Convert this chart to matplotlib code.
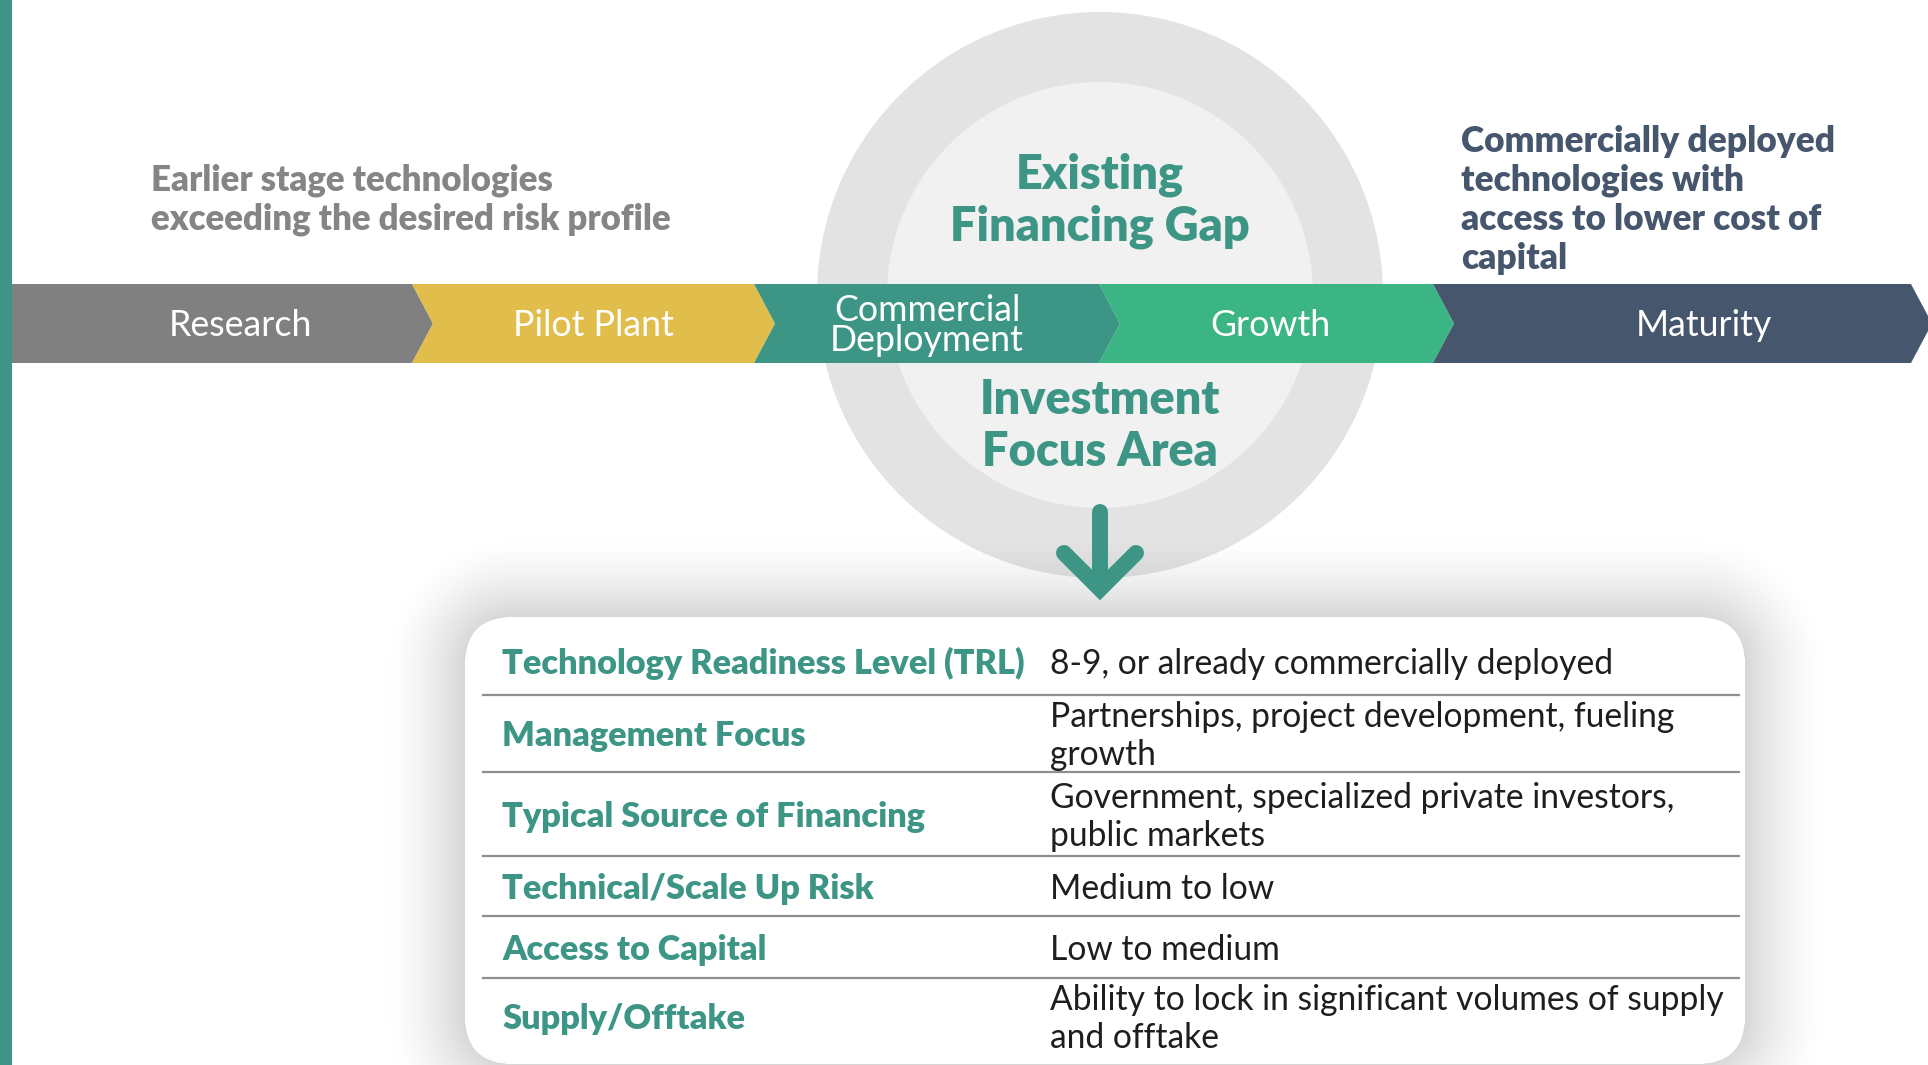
import numpy as np
import matplotlib
matplotlib.use("Agg")
import matplotlib.pyplot as plt
from matplotlib.font_manager import FontProperties
from matplotlib.patches import Circle, FancyBboxPatch, Polygon, Rectangle
from matplotlib.textpath import TextPath

W, H, DPI = 1928, 1065, 100
FONT = "Lato"
BOLD = "heavy"

TEAL = "#3d9685"
SLATE = "#45566d"

# stages along the arrow band
stages = ["Research", "Pilot Plant", "Commercial\nDeployment", "Growth", "Maturity"]
stage_colors = ["#808080", "#e1bd4c", "#3d9685", "#3bb583", "#45566d"]
stage_edges = [12, 412, 754, 1099, 1433, 1911]
stage_label_x = [240, 593, 927, 1271, 1704]

left_note = ["Earlier stage technologies", "exceeding the desired risk profile"]
right_note = ["Commercially deployed", "technologies with", "access to lower cost of", "capital"]
gap_title = ["Existing", "Financing Gap"]
focus_title = ["Investment", "Focus Area"]

# table in the card
table_labels = [
    "Technology Readiness Level (TRL)",
    "Management Focus",
    "Typical Source of Financing",
    "Technical/Scale Up Risk",
    "Access to Capital",
    "Supply/Offtake",
]
table_values = [
    "8-9, or already commercially deployed",
    "Partnerships, project development, fueling\ngrowth",
    "Government, specialized private investors,\npublic markets",
    "Medium to low",
    "Low to medium",
    "Ability to lock in significant volumes of supply\nand offtake",
]
row_centers = [662, 734, 815, 887, 948, 1017]
row_lines = [695, 772, 856, 916, 978]


def fit_size(text, width_px, weight="normal"):
    # font size (pt) that makes the ink of `text` width_px wide
    prop = FontProperties(family=FONT, weight=weight)
    w = TextPath((0, 0), text, size=100, prop=prop).get_extents().width
    return 100 * width_px / w * 72 / DPI


def put(ax, x, y, text, size, color, weight="normal", ha="left"):
    # y is the middle of the capitals, in pixels from the top
    base = y + 0.36 * size * DPI / 72
    ax.text(x, base, text, fontsize=size, color=color, fontweight=weight,
            family=FONT, ha=ha, va="baseline", zorder=10)


fig = plt.figure(figsize=(W / DPI, H / DPI), dpi=DPI)
ax = fig.add_axes([0, 0, 1, 1])
ax.axis("off")

# circle behind the band
ax.add_patch(Circle((1100, 295), 283, color="#e3e3e3", lw=0, zorder=1))
ax.add_patch(Circle((1100, 295), 213, color="#f1f1f1", lw=0, zorder=2))

# shadow of the card
cx0, cy0, cx1, cy1, rad = 465, 617, 1745, 1064, 48
yy, xx = np.mgrid[0:H, 0:W] + 0.5
dx = np.maximum.reduce([cx0 + rad - xx, np.zeros_like(xx), xx - (cx1 - rad)])
dy = np.maximum.reduce([cy0 + rad - yy, np.zeros_like(yy), yy - (cy1 - rad)])
dist = np.hypot(dx, dy) - rad
alpha = np.where(dist > 0, 0.16 * np.clip(1 - dist / 85, 0, 1) ** 1.6, 0)
shadow = np.zeros((H, W, 4))
shadow[..., 3] = alpha
ax.imshow(shadow, extent=(0, W, H, 0), origin="upper", zorder=3, interpolation="bilinear")

ax.add_patch(FancyBboxPatch((cx0, cy0), cx1 - cx0, cy1 - cy0,
                            boxstyle=f"round,pad=0,rounding_size={rad}",
                            fc="white", ec="none", zorder=4))

# arrow band
top, bot, tip = 284, 363, 21
mid = (top + bot) / 2
for i, color in enumerate(stage_colors):
    L, R = stage_edges[i], stage_edges[i + 1]
    pts = [(L, top), (R, top), (R + tip, mid), (R, bot), (L, bot)]
    if i > 0:
        pts.append((L + tip, mid))
    ax.add_patch(Polygon(pts, closed=True, fc=color, ec="none", zorder=5))

band_size = fit_size("Research", 138)
two_line_size = fit_size("Deployment", 190)
for name, x in zip(stages, stage_label_x):
    lines = name.split("\n")
    if len(lines) == 1:
        put(ax, x, mid, name, band_size, "white", ha="center")
    else:
        for k, line in enumerate(lines):
            put(ax, x, mid + (k - 0.5) * 30, line, two_line_size, "white", ha="center")

ax.add_patch(Rectangle((0, 0), 12, H, fc=TEAL, ec="none", zorder=6))

# titles in the circle
title_size = fit_size("Financing Gap", 295, BOLD)
for k, line in enumerate(gap_title):
    put(ax, 1100, 172 + k * 52, line, title_size, TEAL, BOLD, ha="center")
for k, line in enumerate(focus_title):
    put(ax, 1100, 397 + k * 52, line, title_size, TEAL, BOLD, ha="center")

# arrow down to the card
ax.plot([1100, 1100], [512, 588], color=TEAL, lw=11.5, solid_capstyle="round", zorder=7)
ax.plot([1064, 1100, 1136], [553, 589, 553], color=TEAL, lw=11.5,
        solid_capstyle="round", solid_joinstyle="miter", zorder=7)

# notes on both sides
left_size = fit_size(left_note[1], 519, BOLD)
for k, line in enumerate(left_note):
    put(ax, 151, 178 + k * 39, line, left_size, "#858585", BOLD)
right_size = fit_size(right_note[0], 371, BOLD)
for k, line in enumerate(right_note):
    put(ax, 1461, 139 + k * 39, line, right_size, SLATE, BOLD)

# table
label_size = fit_size(table_labels[0], 521, BOLD)
value_size = fit_size(table_values[0], 559)
for y in row_lines:
    ax.plot([483, 1739], [y, y], color="#8f8f8f", lw=1.6, zorder=8)
for label, value, yc in zip(table_labels, table_values, row_centers):
    put(ax, 502, yc, label, label_size, TEAL, BOLD)
    lines = value.split("\n")
    for k, line in enumerate(lines):
        put(ax, 1050, yc + (k - (len(lines) - 1) / 2) * 38, line, value_size, "#1e1e1e")

ax.set_xlim(0, W)
ax.set_ylim(H, 0)
ax.set_aspect("auto")
fig.savefig("out.png", dpi=DPI, facecolor="white")
